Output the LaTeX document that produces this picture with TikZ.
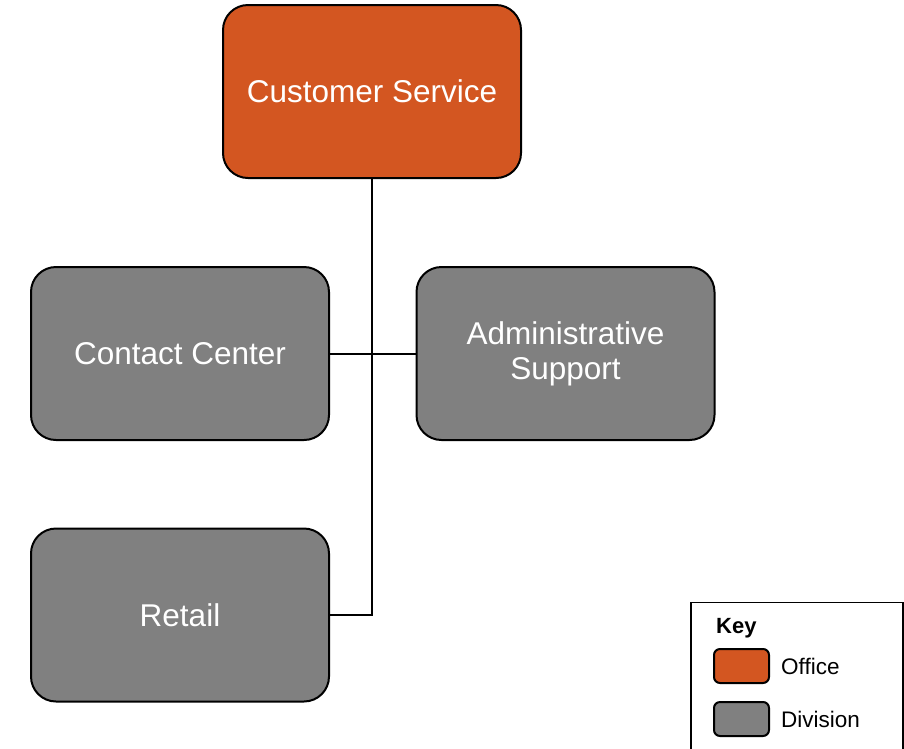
\documentclass[tikz,border=0pt]{standalone}
\usepackage{fontspec}
\setmainfont{Liberation Sans}
\definecolor{office}{HTML}{D35621}
\definecolor{division}{HTML}{808080}
\begin{document}
\begin{tikzpicture}[x=1pt,y=-1pt,
  orgbox/.style={draw=black,line width=2pt,rounded corners=25pt,minimum width=298pt,minimum height=173pt,inner sep=0pt,text=white,align=center,font=\fontsize{31.5}{35}\selectfont},
  officebox/.style={orgbox,fill=office},
  divbox/.style={orgbox,fill=division},
  swatch/.style={draw=black,line width=2pt,rounded corners=6pt,minimum width=55pt,minimum height=34pt,inner sep=0pt},
  keylabel/.style={anchor=west,inner sep=0pt,font=\fontsize{22.5}{26}\selectfont},
  conn/.style={draw=black,line width=2pt}]
\useasboundingbox (0,0) rectangle (904,748);
\node[officebox] (cs) at (372,91.5) {Customer Service};
\node[divbox] (cc) at (180,353.5) {Contact Center};
\node[divbox] (adm) at (565.5,353.5) {Administrative\\Support};
\node[divbox] (ret) at (180,615) {Retail};
\draw[conn] (cc.east) -- (adm.west);
\draw[conn] (cs.south) -- (cs.south |- ret.east) -- (ret.east);
\draw[line width=1.5pt] (691,750) -- (691,602.5) -- (903,602.5) -- (903,750);
\node[anchor=west,inner sep=0pt,font=\fontsize{22}{26}\selectfont\bfseries] (key) at (716,628) {Key};
\node[swatch,fill=office] (so) at (741.5,666) {};
\node[swatch,fill=division] (sd) at (741.5,719) {};
\node[keylabel] (lo) at (781,666) {Office};
\node[keylabel] (ld) at (781,719) {Division};
\end{tikzpicture}
\end{document}
